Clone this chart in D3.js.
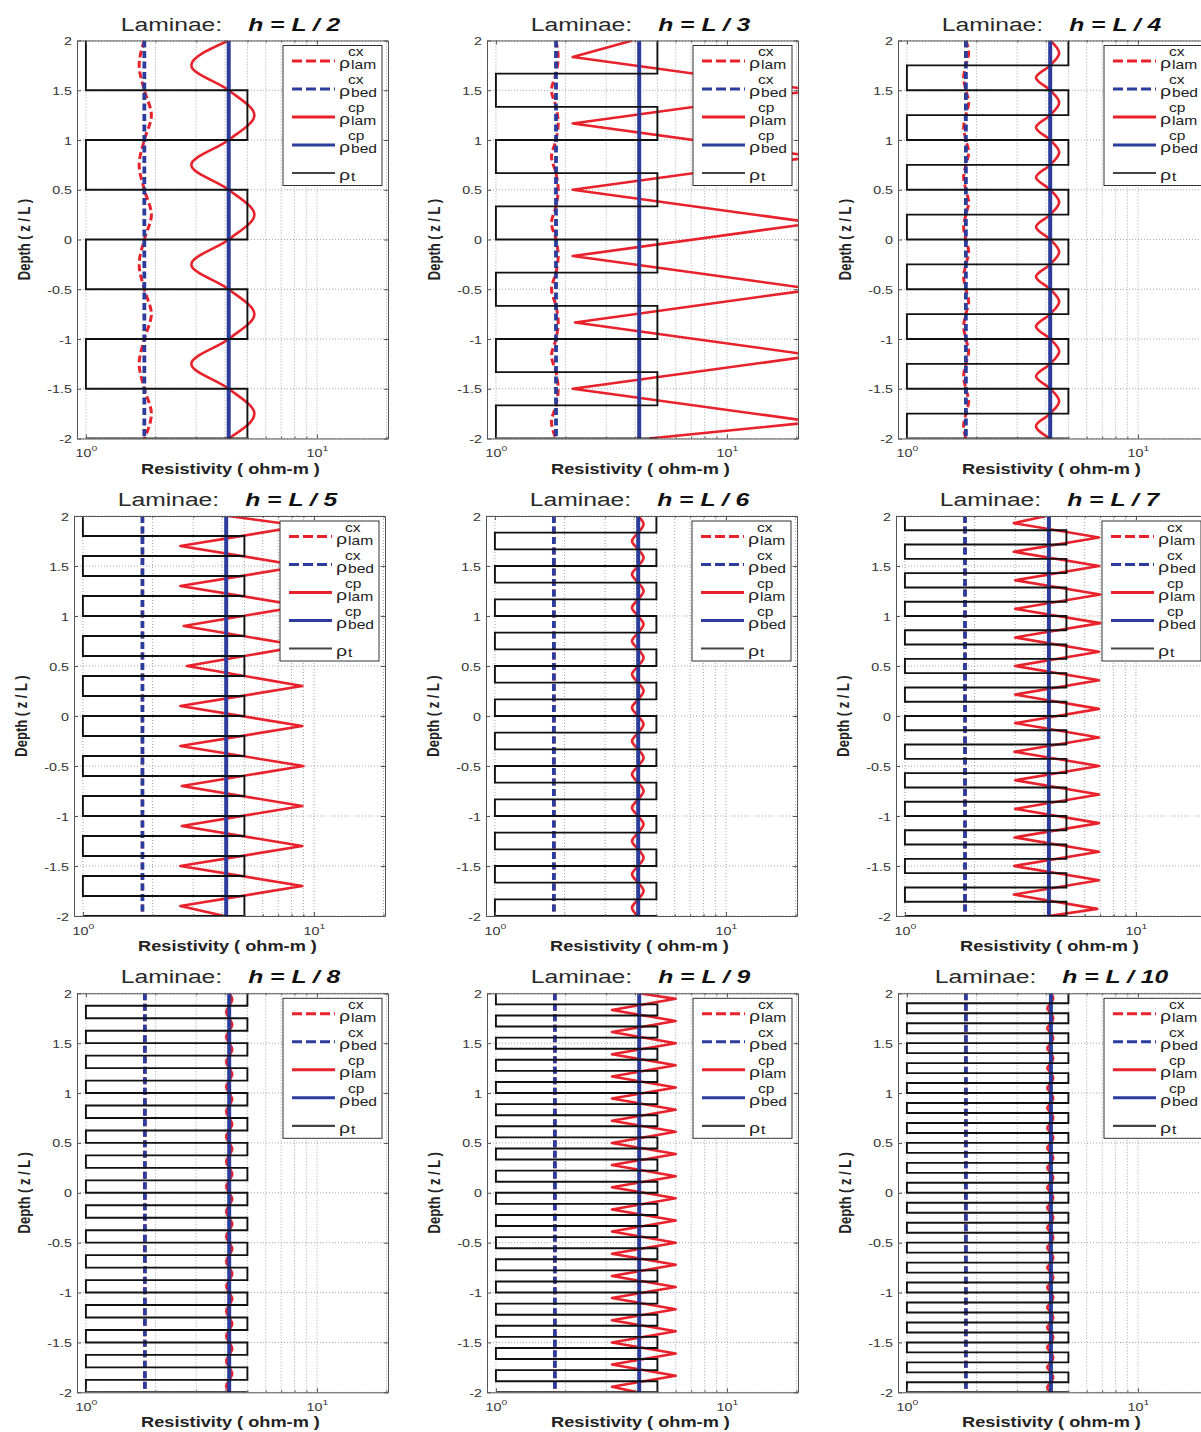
<!DOCTYPE html>
<html>
<head>
<meta charset="utf-8">
<script src="https://cdn.jsdelivr.net/npm/d3@7"></script>
<style>
  body { margin: 0; background: #fff; }
  text { font-family: "Liberation Sans", Arial, sans-serif; }
</style>
</head>
<body>
<svg id="fig" width="1201" height="1432"></svg>
<script>
// ---- data ----
var divisors = [2, 3, 4, 5, 6, 7, 8, 9, 10];          // h = L / n
var shapes   = ["bump", "zig", "bump", "zig", "bump", "zig", "bump", "zig", "bump"];
var topRt    = [1, 5, 5, 1, 5, 1, 5, 1, 5];            // rho_t of the top layer
var rtValues = [1, 5];                                  // laminae resistivities

var bedCx = [1.79, 1.82, 1.80, 1.81, 1.80, 1.82, 1.80, 1.80, 1.80];
var bedCp = [4.15, 4.17, 4.17, 4.17, 4.17, 4.20, 4.17, 4.17, 4.20];

// rho_lam^cp at every layer centre, top to bottom
var lamCp = [
  [2.86, 5.36, 2.86, 5.36, 2.86, 5.36, 2.86, 5.36],
  [2.15, 24, 2.15, 24, 2.15, 24, 2.15, 24, 2.2, 24, 2.15, 24],
  [4.56, 3.62, 4.56, 3.62, 4.56, 3.62, 4.56, 3.62, 4.56, 3.62, 4.56, 3.62, 4.56, 3.62, 4.56, 3.62],
  [8.9, 2.64, 8.9, 2.64, 8.9, 2.73, 8.9, 2.82, 8.9, 2.64, 8.9, 2.64, 9.0, 2.68, 8.9, 2.68, 8.9, 2.64, 8.9, 2.64],
  [4.4, 3.92, 4.4, 3.92, 4.4, 3.92, 4.4, 3.92, 4.4, 3.92, 4.4, 3.92,
   4.4, 3.92, 4.4, 3.92, 4.4, 3.92, 4.4, 3.92, 4.4, 3.92, 4.4, 3.92],
  [2.96, 6.92, 2.96, 6.92, 3.0, 7.0, 3.0, 7.0, 3.0, 6.92, 3.0, 6.92, 3.0, 6.92, 3.0, 6.92,
   2.98, 6.92, 3.0, 6.92, 3.0, 6.92, 2.98, 6.92, 2.97, 6.92, 2.96, 6.8],
  [4.3, 4.05, 4.3, 4.05, 4.3, 4.05, 4.3, 4.05, 4.3, 4.05, 4.3, 4.05, 4.3, 4.05, 4.3, 4.05,
   4.3, 4.05, 4.3, 4.05, 4.3, 4.05, 4.3, 4.05, 4.3, 4.05, 4.3, 4.05, 4.3, 4.05, 4.3, 4.05],
  [6.0, 3.18, 6.0, 3.18, 6.0, 3.18, 6.0, 3.18, 6.0, 3.18, 6.0, 3.18, 6.0, 3.18, 6.0, 3.18, 6.0, 3.18,
   6.0, 3.18, 6.0, 3.18, 6.0, 3.18, 6.0, 3.18, 6.0, 3.18, 6.0, 3.18, 6.0, 3.18, 6.0, 3.18, 6.0, 3.18],
  [4.3, 4.05, 4.3, 4.05, 4.3, 4.05, 4.3, 4.05, 4.3, 4.05, 4.3, 4.05, 4.3, 4.05, 4.3, 4.05, 4.3, 4.05, 4.3, 4.05,
   4.3, 4.05, 4.3, 4.05, 4.3, 4.05, 4.3, 4.05, 4.3, 4.05, 4.3, 4.05, 4.3, 4.05, 4.3, 4.05, 4.3, 4.05, 4.3, 4.05]
];
// zigzag panels: value at depth 2 and at depth -2
var lamCpStart = [null, 3.9, null, 4.25, null, 4.08, null, 4.17, null];
var lamCpEnd   = [null, 4.6, null, 4.1, null, 4.2, null, 4.1, null];

// rho_lam^cx at layer centres (null: lies on rho_bed^cx)
var lamCx = [
  [1.70, 1.92, 1.70, 1.92, 1.70, 1.92, 1.70, 1.92],
  [1.86, 1.74, 1.86, 1.74, 1.86, 1.74, 1.86, 1.74, 1.86, 1.74, 1.86, 1.74],
  [1.85, 1.76, 1.85, 1.76, 1.85, 1.76, 1.85, 1.76, 1.85, 1.76, 1.85, 1.76, 1.85, 1.76, 1.85, 1.76],
  null, null, null, null, null, null
];

var yTicks = [2, 1.5, 1, 0.5, 0, -0.5, -1, -1.5, -2];
var yTickLabels = ["2", "1.5", "1", "0.5", "0", "-0.5", "-1", "-1.5", "-2"];
var xMajor = [1, 10], xMajorExp = ["0", "1"];
var xMinor = [2, 3, 4, 5, 6, 7, 8, 9, 20];

var legendItems = [
  { sup: "cx", sub: "lam", kind: "lamCx" },
  { sup: "cx", sub: "bed", kind: "bedCx" },
  { sup: "cp", sub: "lam", kind: "lamCp" },
  { sup: "cp", sub: "bed", kind: "bedCp" },
  { sup: "",   sub: "t",   kind: "rt" }
];

// ---- layout ----
var panelLeft = [77, 487, 898, 74, 486, 896, 77, 487, 898];
var rowTop = [40.5, 516, 993.3], rowH = [398, 400, 399];
var plotW = 311;
var xDomain = [0.915, 20.3];
var SX = 1.3;   // the figure is stretched horizontally
var red = "#e8212b", blue = "#2c3c9c", axisCol = "#555";

var styles = {
  lamCx: { stroke: red,  width: 3,   dash: "7,3.5" },
  bedCx: { stroke: blue, width: 3.8, dash: "7,3.5" },
  lamCp: { stroke: red,  width: 2.6, dash: null },
  bedCp: { stroke: blue, width: 4,   dash: null },
  rt:    { stroke: "#111", width: 1.9, dash: null }
};

var svg = d3.select("#fig");

function stext(g, x, y, size) {
  return g.append("text")
    .attr("transform", "translate(" + x + "," + y + ") scale(" + SX + ",1)")
    .attr("font-size", size);
}

function styled(path, s) {
  return path.attr("fill", "none")
    .attr("stroke", s.stroke)
    .attr("stroke-width", s.width)
    .attr("stroke-dasharray", s.dash);
}

divisors.forEach(function(n, i) {
  var row = Math.floor(i / 3), H = rowH[row], h = 1 / n;
  var g = svg.append("g")
    .attr("transform", "translate(" + panelLeft[i] + "," + rowTop[row] + ")");

  var x = d3.scaleLog().domain(xDomain).range([0, plotW]);
  var y = d3.scaleLinear().domain([2, -2]).range([0, H]);

  g.append("clipPath").attr("id", "clip" + i)
    .append("rect").attr("width", plotW).attr("height", H);

  // grid
  var grid = g.append("g")
    .attr("stroke", "#8f8f8f").attr("stroke-width", 0.8).attr("stroke-dasharray", "1,2");
  grid.selectAll(".vg").data(xMajor.concat(xMinor)).join("line")
    .attr("x1", function(d) { return x(d); }).attr("x2", function(d) { return x(d); })
    .attr("y1", 0).attr("y2", H);
  grid.selectAll(".hg").data(yTicks).join("line")
    .attr("y1", function(d) { return y(d); }).attr("y2", function(d) { return y(d); })
    .attr("x1", 0).attr("x2", plotW);

  // point lists
  function centre(k) { return 2 - (k + 0.5) * h; }
  function bumpPts(ext, cross) {
    var pts = [[cross, 2]];
    ext.forEach(function(v, k) { pts.push([v, centre(k)], [cross, 2 - (k + 1) * h]); });
    return pts;
  }
  var cpPts;
  if (shapes[i] === "bump") {
    cpPts = bumpPts(lamCp[i], bedCp[i]);
  } else {
    cpPts = [[lamCpStart[i], 2]];
    lamCp[i].forEach(function(v, k) { cpPts.push([v, centre(k)]); });
    cpPts.push([lamCpEnd[i], -2]);
  }
  var cxPts = lamCx[i] ? bumpPts(lamCx[i], bedCx[i]) : [[bedCx[i], 2], [bedCx[i], -2]];

  var rtPts = [], v = topRt[i];
  for (var k = 0; k < 4 * n; k++) {
    rtPts.push([v, 2 - k * h], [v, 2 - (k + 1) * h]);
    v = (v === rtValues[0]) ? rtValues[1] : rtValues[0];
  }
  rtPts.push([v, -2]);

  var line = d3.line()
    .x(function(d) { return x(d[0]); })
    .y(function(d) { return y(d[1]); });
  var smooth = d3.line()
    .x(function(d) { return x(d[0]); })
    .y(function(d) { return y(d[1]); })
    .curve(d3.curveMonotoneY);

  var data = g.append("g").attr("clip-path", "url(#clip" + i + ")");
  styled(data.append("path").attr("d", lamCx[i] ? smooth(cxPts) : line(cxPts)), styles.lamCx);
  styled(data.append("path").attr("d", line([[bedCx[i], 2], [bedCx[i], -2]])), styles.bedCx);
  styled(data.append("path").attr("d", shapes[i] === "bump" ? smooth(cpPts) : line(cpPts)), styles.lamCp)
    .attr("stroke-linejoin", "round");
  styled(data.append("path").attr("d", line([[bedCp[i], 2], [bedCp[i], -2]])), styles.bedCp);
  styled(data.append("path").attr("d", line(rtPts)), styles.rt);

  // axes
  function tidy(ax) {
    ax.attr("font-family", null).attr("font-size", null);
    ax.select(".domain").attr("stroke", axisCol);
    ax.selectAll(".tick line").attr("stroke", axisCol);
    return ax;
  }
  var left = tidy(g.append("g").call(d3.axisLeft(y).tickValues(yTicks)
    .tickFormat(function(d, k) { return yTickLabels[k]; })
    .tickSizeInner(-4).tickSizeOuter(0).tickPadding(5)));
  left.selectAll("text")
    .attr("x", -5 / SX).attr("dy", null).attr("y", 4)
    .attr("transform", "scale(" + SX + ",1)")
    .attr("font-size", 11).attr("fill", "#333");

  tidy(g.append("g").attr("transform", "translate(" + plotW + ",0)")
    .call(d3.axisRight(y).tickValues(yTicks).tickFormat("").tickSizeInner(-4).tickSizeOuter(0)));

  var bottom = tidy(g.append("g").attr("transform", "translate(0," + H + ")")
    .call(d3.axisBottom(x).tickValues(xMajor).tickFormat("").tickSizeInner(-4).tickSizeOuter(0)));
  bottom.selectAll(".tick text").each(function(d, k) {
    var t = d3.select(this).text(null)
      .attr("y", 19).attr("dy", null)
      .attr("transform", "scale(" + SX + ",1)")
      .attr("x", 0).attr("font-size", 11).attr("fill", "#333");
    t.append("tspan").text("10");
    t.append("tspan").attr("dy", -6).attr("font-size", 8).text(xMajorExp[k]);
  });
  tidy(g.append("g").attr("transform", "translate(0," + H + ")")
    .call(d3.axisBottom(x).tickValues(xMinor).tickFormat("").tickSizeInner(-2).tickSizeOuter(0)))
    .select(".domain").remove();
  tidy(g.append("g")
    .call(d3.axisTop(x).tickValues(xMajor).tickFormat("").tickSizeInner(-4).tickSizeOuter(0)));
  tidy(g.append("g")
    .call(d3.axisTop(x).tickValues(xMinor).tickFormat("").tickSizeInner(-2).tickSizeOuter(0)))
    .select(".domain").remove();

  // labels
  var title = stext(g, plotW / 2 - 2, -10, 19).attr("text-anchor", "middle").attr("fill", "#2a2a2a");
  title.append("tspan").text("Laminae:");
  title.append("tspan").attr("dx", 20).attr("font-weight", "bold").attr("font-style", "italic")
    .attr("fill", "#111").text("h = L / " + n);

  stext(g, plotW / 2 - 2, H + 35, 14).attr("text-anchor", "middle")
    .attr("font-weight", "bold").attr("fill", "#222").text("Resistivity ( ohm-m )");

  g.append("text")
    .attr("transform", "translate(-47," + (H / 2) + ") scale(" + SX + ",1) rotate(-90)")
    .attr("text-anchor", "middle").attr("font-size", 13).attr("font-weight", "bold")
    .attr("fill", "#222").text("Depth ( z / L )");

  // legend
  var lg = g.append("g").attr("transform", "translate(206,5)");
  lg.append("rect").attr("width", 99).attr("height", 140)
    .attr("fill", "#fff").attr("stroke", "#333").attr("stroke-width", 1);
  legendItems.forEach(function(it, k) {
    var yy = 15.5 + 28 * k, s = styles[it.kind];
    styled(lg.append("line").attr("x1", 9).attr("x2", 52).attr("y1", yy).attr("y2", yy), s)
      .attr("stroke-width", it.kind === "rt" ? 2.2 : 3)
      .attr("stroke-dasharray", s.dash ? "10,4" : null)
      .attr("stroke", it.kind === "rt" ? "#444" : s.stroke);
    stext(lg, 56, yy + 7, 15).attr("fill", "#222").text("\u03c1");
    if (it.sup) stext(lg, 65, yy - 5, 12).attr("fill", "#222").text(it.sup);
    stext(lg, 68, yy + 8, 12).attr("fill", "#222").text(it.sub);
  });
});
</script>
</body>
</html>
